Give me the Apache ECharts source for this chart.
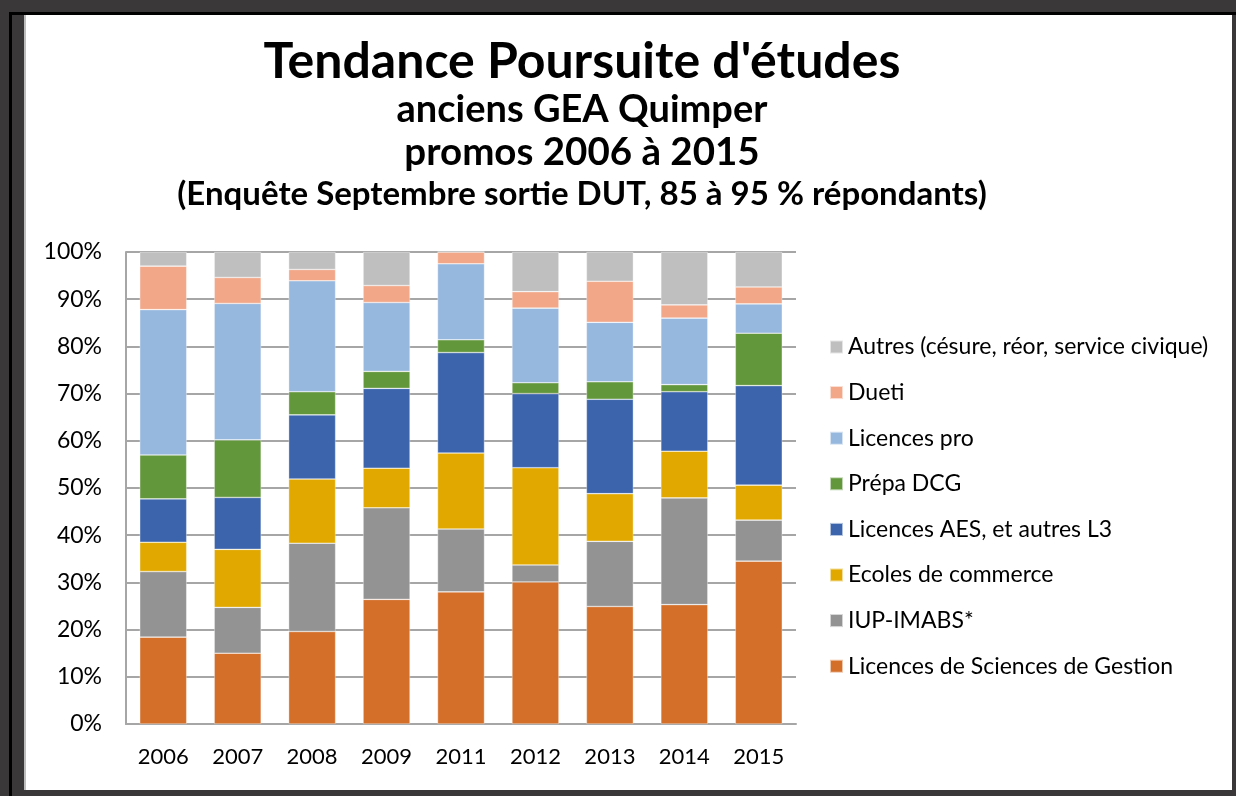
<!DOCTYPE html>
<html>
<head>
<meta charset="utf-8">
<title>Tendance Poursuite d'études</title>
<script src="https://cdn.jsdelivr.net/npm/echarts@6/dist/echarts.min.js"></script>
<style>
  html, body { margin: 0; padding: 0; background: #3a3838; }
</style>
</head>
<body>
<div id="main" style="width: 1236px; height: 796px;"></div>
<script type="text/javascript">

// promos (axe des x)
var years = ['2006', '2007', '2008', '2009', '2011', '2012', '2013', '2014', '2015'];

// pourcentages, du bas vers le haut
var licSG   = [18.4, 15.0, 19.6, 26.4, 28.0, 30.1, 24.9, 25.3, 34.5];
var iup     = [13.9,  9.7, 18.7, 19.4, 13.3,  3.6, 13.8, 22.6,  8.7];
var ecoles  = [ 6.2, 12.3, 13.6,  8.4, 16.1, 20.6, 10.1,  9.9,  7.4];
var aes     = [ 9.2, 11.0, 13.6, 16.9, 21.3, 15.7, 20.0, 12.6, 21.1];
var dcg     = [ 9.3, 12.2,  4.9,  3.6,  2.7,  2.3,  3.7,  1.5, 11.1];
var licPro  = [30.8, 28.9, 23.5, 14.6, 16.1, 15.8, 12.6, 14.1,  6.2];
var dueti   = [ 9.2,  5.5,  2.4,  3.6,  2.5,  3.5,  8.7,  2.8,  3.6];
var autres  = [ 3.0,  5.4,  3.7,  7.1,  0.0,  8.4,  6.2, 11.2,  7.4];

var names = [
  'Licences de Sciences de Gestion',
  'IUP-IMABS*',
  'Ecoles de commerce',
  'Licences AES, et autres L3',
  'Prépa DCG',
  'Licences pro',
  'Dueti',
  'Autres (césure, réor, service civique)'
];
var values = [licSG, iup, ecoles, aes, dcg, licPro, dueti, autres];
var colors = ['#d46f2a', '#939393', '#e1a900', '#3b64ad', '#63973c', '#96b7de', '#f1a788', '#bfbfbf'];

var font = 'Lato, "Open Sans", sans-serif';
var dark = '#3a3838';

var chartDom = document.getElementById('main');
var myChart = echarts.init(chartDom);
var option;

var series = names.map(function (n, i) {
  return {
    name: n,
    type: 'bar',
    stack: 'total',
    barWidth: 47,
    data: values[i],
    itemStyle: { color: colors[i], borderColor: 'rgba(255,255,255,0.6)', borderWidth: 0.6 }
  };
});

function titleText(txt, y, size) {
  return {
    type: 'text',
    x: 582,
    y: y,
    style: {
      text: txt,
      fill: '#000',
      fontFamily: font,
      fontWeight: 'bold',
      fontSize: size,
      align: 'center',
      verticalAlign: 'middle'
    }
  };
}

option = {
  backgroundColor: '#ffffff',
  animation: false,
  color: colors,
  grid: { left: 126, right: 440, top: 252, bottom: 72 },
  legend: {
    orient: 'vertical',
    left: 824,
    top: 330,
    itemWidth: 13,
    itemHeight: 13,
    itemGap: 21.6,
    icon: 'rect',
    data: names.slice().reverse(),
    textStyle: { fontFamily: font, fontSize: 23, color: '#000', lineHeight: 24 }
  },
  xAxis: {
    type: 'category',
    data: years,
    axisTick: { show: false },
    axisLine: { lineStyle: { color: '#a6a6a6', width: 2 } },
    axisLabel: { fontFamily: font, fontSize: 22, color: '#000', margin: 22 }
  },
  yAxis: {
    type: 'value',
    min: 0,
    max: 100,
    interval: 10,
    axisLine: { show: true, lineStyle: { color: '#a6a6a6', width: 2 } },
    splitLine: { lineStyle: { color: '#a6a6a6', width: 2 } },
    axisLabel: { fontFamily: font, fontSize: 23, color: '#000', margin: 24, formatter: '{value}%' }
  },
  series: series,
  graphic: [
    // cadre sombre autour de la zone blanche
    { type: 'rect', shape: { x: 0, y: 0, width: 1236, height: 15 }, style: { fill: dark } },
    { type: 'rect', shape: { x: 0, y: 0, width: 24, height: 796 }, style: { fill: dark } },
    { type: 'rect', shape: { x: 1232, y: 0, width: 4, height: 796 }, style: { fill: dark } },
    { type: 'rect', shape: { x: 0, y: 790, width: 1236, height: 6 }, style: { fill: dark } },
    { type: 'rect', shape: { x: 9, y: 12, width: 1227, height: 3 }, style: { fill: '#000' } },
    { type: 'rect', shape: { x: 9, y: 12, width: 3, height: 784 }, style: { fill: '#000' } },
    { type: 'rect', shape: { x: 24, y: 15, width: 2, height: 775 }, style: { fill: '#bdbdbd' } },
    titleText("Tendance Poursuite d'études", 62, 50),
    titleText('anciens GEA Quimper', 110, 38),
    titleText('promos 2006 à 2015', 153, 38.5),
    titleText('(Enquête Septembre sortie DUT, 85 à 95 % répondants)', 194, 33)
  ]
};

option && myChart.setOption(option);
</script>
</body>
</html>
